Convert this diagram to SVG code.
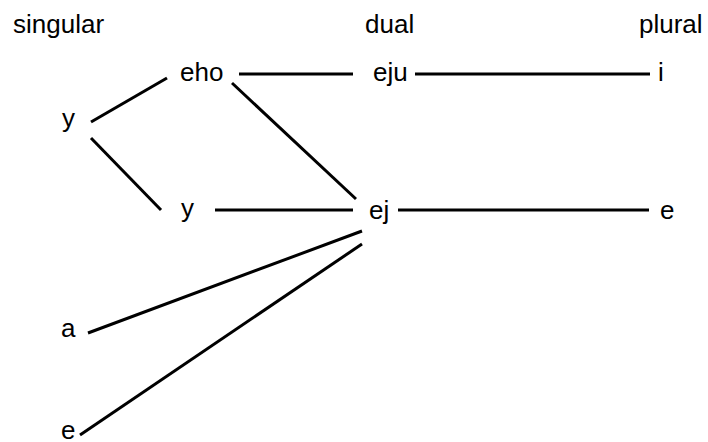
<svg xmlns="http://www.w3.org/2000/svg" width="708" height="442" viewBox="0 0 708 442">
<style>
text{font-family:"Liberation Sans",Arial,sans-serif;font-size:26px;fill:#000}
.c line{stroke:#000;stroke-width:3;stroke-linecap:butt}
</style>
<rect width="708" height="442" fill="#fff"/>
<g id="headers">
<text x="13" y="33">singular</text>
<text x="365" y="33">dual</text>
<text x="639" y="33">plural</text>
</g>
<g id="n-eho"><text x="180" y="81">eho</text></g>
<g id="n-eju"><text x="373" y="81">eju</text></g>
<g id="n-i"><text x="658" y="81">i</text></g>
<g id="n-y1"><text x="62" y="127">y</text></g>
<g id="n-y2"><text x="181" y="217">y</text></g>
<g id="n-ej"><text x="369" y="219">ej</text></g>
<g id="n-e1"><text x="660" y="219">e</text></g>
<g id="n-a"><text x="61" y="337">a</text></g>
<g id="n-e2"><text x="61" y="439">e</text></g>
<g class="c" id="connectors">
<line x1="91" y1="122" x2="167" y2="78"/>
<line x1="91" y1="138" x2="161" y2="210"/>
<line x1="239" y1="74" x2="353" y2="74"/>
<line x1="415" y1="74" x2="650" y2="74"/>
<line x1="232" y1="83" x2="356" y2="199"/>
<line x1="215" y1="210" x2="353" y2="210"/>
<line x1="398" y1="210" x2="649" y2="210"/>
<line x1="88" y1="333" x2="362" y2="231"/>
<line x1="80" y1="435" x2="362" y2="244"/>
</g>
</svg>
